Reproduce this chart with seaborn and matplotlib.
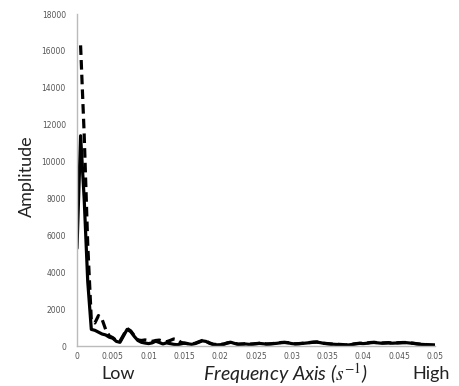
import numpy as np
import pandas as pd
import matplotlib
matplotlib.use("Agg")
import matplotlib.pyplot as plt
import seaborn as sns

# ---- data ----
freq = [round(i * 0.0005, 4) for i in range(101)]

solid_amp = [
    5300, 11400, 8000, 3500, 900, 850, 750, 650, 600, 480,
    420, 250, 200, 550, 900, 780, 520, 300, 200, 160,
    130, 170, 260, 190, 110, 170, 130, 90, 70, 110,
    160, 120, 90, 130, 200, 280, 250, 150, 80, 60,
    70, 90, 160, 200, 140, 90, 100, 110, 90, 100,
    120, 140, 120, 100, 110, 130, 150, 180, 190, 170,
    130, 110, 120, 140, 160, 180, 200, 210, 180, 140,
    120, 100, 90, 80, 70, 50, 60, 90, 120, 140,
    130, 150, 180, 190, 170, 150, 160, 170, 150, 160,
    170, 180, 180, 160, 140, 110, 90, 80, 60, 50,
    40,
]

dashed_amp = [
    np.nan, 16300, 11500, 5500, 1400, 1250, 1650, 1450, 900, 550,
    450, 300, 260, 600, 950, 820, 560, 330, 300, 330,
    300, 250, 300, 320, 260, 230, 300, 380, 350, 200,
    150, 130, 110, 150, 230, 300, 270, 170, 100, 80,
    90, 110, 170, 210, 150, 100, 110, 120, 100, 110,
    130, 150, 130, 110, 120, 140, 160, 190, 200, 180,
    140, 120, 130, 150, 170, 190, 210, 220, 190, 150,
    130, 110, 100, 90, 80, 60, 70, 100, 130, 150,
    140, 160, 190, 200, 180, 160, 170, 180, 160, 170,
    180, 190, 190, 170, 150, 120, 100, 90, 70, 60,
    50,
]

x_ticks = [0, 0.005, 0.01, 0.015, 0.02, 0.025, 0.03, 0.035, 0.04, 0.045, 0.05]
x_tick_labels = ["0", "0.005", "0.01", "0.015", "0.02", "0.025", "0.03", "0.035", "0.04", "0.045", "0.05"]
y_ticks = [0, 2000, 4000, 6000, 8000, 10000, 12000, 14000, 16000, 18000]

df_solid = pd.DataFrame({"freq": freq, "amp": solid_amp}).dropna()
df_dashed = pd.DataFrame({"freq": freq, "amp": dashed_amp}).dropna()

# ---- plot ----
sns.set_style("white")
plt.rcParams["mathtext.fontset"] = "stix"

fig = plt.figure(figsize=(4.6, 3.86), dpi=100)
ax = fig.add_axes([77 / 460, 1 - 346 / 386, (435 - 77) / 460, (346 - 14) / 386])

sns.lineplot(data=df_solid, x="freq", y="amp", ax=ax, color="black",
             linewidth=2.3, estimator=None, sort=False)
sns.lineplot(data=df_dashed, x="freq", y="amp", ax=ax, color="black",
             linewidth=2.3, estimator=None, sort=False,
             linestyle=(0, (3, 1.6)))

ax.set_xlim(0, 0.05)
ax.set_ylim(0, 18000)
ax.set_xticks(x_ticks)
ax.set_xticklabels(x_tick_labels)
ax.set_yticks(y_ticks)
ax.set_yticklabels([str(v) for v in y_ticks])
ax.tick_params(axis="both", direction="in", length=3, width=0.8, color="#aaaaaa",
               labelsize=5.5, labelcolor="#555555")
ax.tick_params(axis="x", pad=4)
ax.tick_params(axis="y", pad=8)
for s in ["top", "right"]:
    ax.spines[s].set_visible(False)
for s in ["left", "bottom"]:
    ax.spines[s].set_color("#bbbbbb")
    ax.spines[s].set_linewidth(1.0)

ax.set_xlabel("")
ax.set_ylabel("")

fig.text(27 / 460, 1 - 176 / 386, "Amplitude", rotation=90, ha="center", va="center",
         fontsize=13, family="Lato", color="#222222")
fig.text(118 / 460, 1 - 374 / 386, "Low", ha="center", va="center",
         fontsize=13, family="Lato", color="#222222")
fig.text(285 / 460, 1 - 374 / 386, r"Frequency Axis ($s^{-1}$)", ha="center", va="center",
         fontsize=14, family="Lato", style="italic", color="#222222")
fig.text(431 / 460, 1 - 374 / 386, "High", ha="center", va="center",
         fontsize=13, family="Lato", color="#222222")

fig.savefig("out.png", dpi=100)
